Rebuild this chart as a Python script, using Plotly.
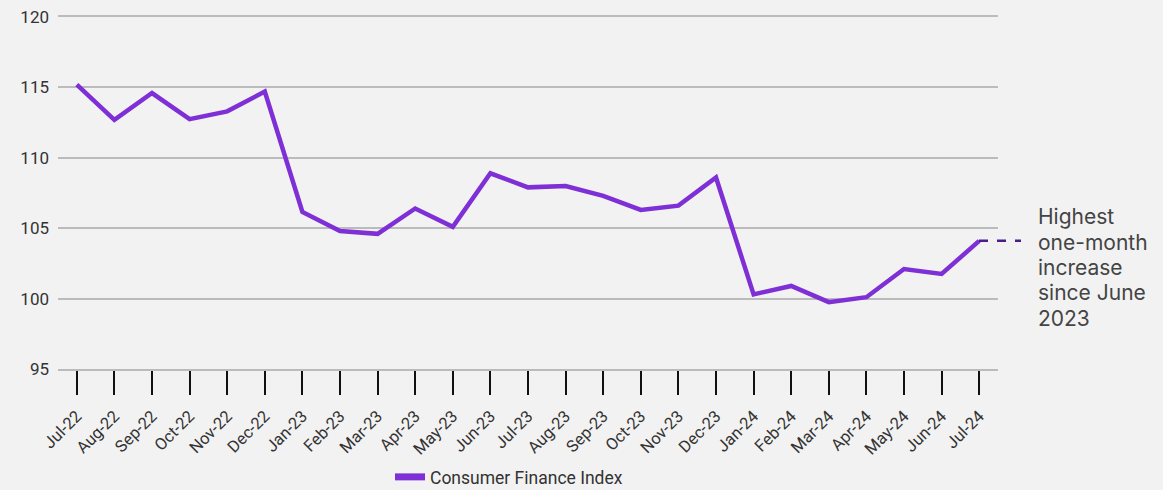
import plotly.graph_objects as go

months = ["Jul-22", "Aug-22", "Sep-22", "Oct-22", "Nov-22", "Dec-22",
          "Jan-23", "Feb-23", "Mar-23", "Apr-23", "May-23", "Jun-23",
          "Jul-23", "Aug-23", "Sep-23", "Oct-23", "Nov-23", "Dec-23",
          "Jan-24", "Feb-24", "Mar-24", "Apr-24", "May-24", "Jun-24", "Jul-24"]
index_values = [115.2, 112.7, 114.6, 112.75, 113.3, 114.7,
                 106.15, 104.8, 104.6, 106.4, 105.1, 108.9,
                 107.9, 108.0, 107.3, 106.3, 106.6, 108.6,
                 100.3, 100.9, 99.75, 100.1, 102.1, 101.75, 104.1]
y_ticks = [95, 100, 105, 110, 115, 120]
series_name = "Consumer Finance Index"
note_lines = ["Highest", "one-month", "increase", "since June", "2023"]

LINE = "#7E30D6"
BG = "#F2F2F2"
PLOT_L, PLOT_R, PLOT_T, PLOT_B = 58, 998, 17, 369
PW, PH = PLOT_R - PLOT_L, PLOT_B - PLOT_T

fig = go.Figure()
fig.add_trace(go.Scatter(
    x=months, y=index_values, mode="lines",
    line=dict(color=LINE, width=4.5), showlegend=False, hoverinfo="x+y",
))
# legend swatch
fig.add_trace(go.Scatter(
    x=[months[0]], y=[None], mode="lines", name=series_name,
    line=dict(color=LINE, width=7), showlegend=True,
))

fig.add_shape(type="line", xref="paper", yref="y",
              x0=(979 - PLOT_L) / PW, x1=(1021 - PLOT_L) / PW,
              y0=index_values[-1], y1=index_values[-1],
              line=dict(color="#4B1C8C", width=2.5, dash="dash"))

for i, line_txt in enumerate(note_lines):
    fig.add_annotation(xref="paper", yref="paper",
                       x=(1036 - PLOT_L) / PW,
                       y=(PLOT_B - (217 + 25.3 * i)) / PH,
                       xanchor="left", yanchor="middle", align="left",
                       text=line_txt, showarrow=False,
                       font=dict(family="Inter", size=21, color="#444444"))

fig.update_layout(
    width=1163, height=490,
    margin=dict(l=PLOT_L, r=1163 - PLOT_R, t=PLOT_T, b=490 - PLOT_B,
                autoexpand=False),
    paper_bgcolor=BG, plot_bgcolor=BG,
    font=dict(family="Roboto", color="#333333", size=16),
    legend=dict(orientation="h", x=(509 - PLOT_L) / PW, xanchor="center",
                y=(PLOT_B - 477) / PH, yanchor="middle",
                font=dict(family="Roboto", size=17.5, color="#333333"),
                itemwidth=30, bgcolor="rgba(0,0,0,0)"),
    xaxis=dict(type="category", range=[-0.5, len(months) - 0.5],
               ticks="outside", ticklen=24, tickwidth=2,
               tickcolor="#111111", tickangle=-45, automargin=False,
               ticklabelstandoff=5,
               tickfont=dict(family="Roboto", size=16.5, color="#333333"),
               showgrid=False, showline=True, linecolor="#BBBBBB", linewidth=2,
               mirror=True, zeroline=False),
    yaxis=dict(range=[95, 120], tickvals=y_ticks, showgrid=True,
               gridcolor="#BBBBBB", gridwidth=2, zeroline=False,
               ticks="", ticklabelstandoff=8, automargin=False,
               tickfont=dict(family="Roboto", size=17, color="#333333")),
)

fig.write_html("out.html", config={"displayModeBar": False},
               post_script="document.body.style.margin='0';document.body.style.background='#F2F2F2';")
